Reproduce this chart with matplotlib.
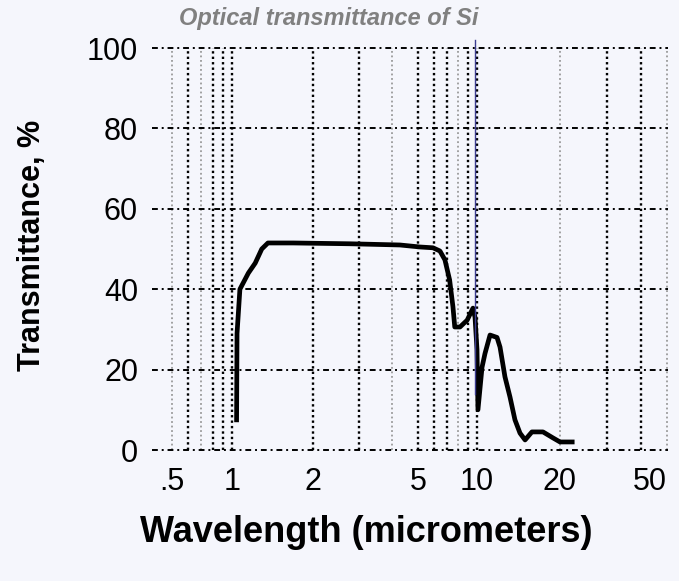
import numpy as np
import matplotlib
matplotlib.use("Agg")
import matplotlib.pyplot as plt

# transmittance curve
wavelength_um = [1.04, 1.044, 1.07, 1.15, 1.22, 1.29, 1.36, 1.69, 2.76, 4.27,
                 5.12, 5.96, 6.47, 6.86, 7.25, 7.54, 7.70, 8.19, 8.91, 9.54,
                 9.77, 10.0, 10.08, 10.43, 10.69, 11.15, 11.82, 12.12, 12.63,
                 13.17, 13.73, 14.32, 14.94, 15.82, 17.35, 18.87, 20.0, 22.2]
transmittance = [7.5, 29.0, 40.0, 44.0, 46.5, 50.0, 51.5, 51.5, 51.3, 51.0,
                 50.5, 50.3, 49.5, 47.3, 42.3, 35.6, 30.6, 30.6, 32.3, 35.3,
                 33.0, 25.0, 10.0, 20.6, 24.0, 28.6, 28.0, 25.6, 18.2,
                 13.2, 7.5, 4.2, 2.5, 4.5, 4.5, 3.0, 2.0, 2.0]

x_ticks = [0.5, 1, 2, 5, 10, 20, 50]
x_tick_labels = [".5", "1", "2", "5", "10", "20", "50"]
y_ticks = [0, 20, 40, 60, 80, 100]
grid_dark = [0.6, 0.8, 0.9, 1, 2, 3, 5, 6, 7, 9, 10, 30, 40]
grid_light = [0.5, 0.7, 4, 8, 20, 50]
marker_line_x = 9.8

# the original axis is only roughly logarithmic: piecewise log spacing
knot_vals = np.log10([0.413, 0.5, 1, 2, 5, 10, 20, 50, 50.4])
knot_pos = np.array([152, 172, 232, 313, 418, 477, 560, 667, 668], dtype=float)


def fwd(x):
    x = np.clip(np.asarray(x, dtype=float), 1e-3, None)
    return np.interp(np.log10(x), knot_vals, knot_pos)


def inv(p):
    return 10 ** np.interp(np.asarray(p, dtype=float), knot_pos, knot_vals)


bg = "#f5f6fc"
fig = plt.figure(figsize=(6.79, 5.81), dpi=100, facecolor=bg)
ax = fig.add_axes([152 / 679, 131 / 581, 516 / 679, 402 / 581], facecolor=bg)
ax.set_xscale("function", functions=(fwd, inv))
ax.set_xlim(0.413, 50.4)
ax.set_ylim(0, 100)

for s in ax.spines.values():
    s.set_visible(False)

for g in grid_dark:
    ax.axvline(g, color="black", lw=1.7, ls=(0, (1, 1.3)), zorder=1)
for g in grid_light:
    ax.axvline(g, color="#9a9a9a", lw=1.3, ls=(0, (1, 1.5)), zorder=1)
for g in y_ticks:
    ax.axhline(g, color="black", lw=1.4, ls=(0, (3, 2, 1, 2)), zorder=1,
               clip_on=False)

ax.plot(wavelength_um, transmittance, color="black", lw=3.4,
        solid_joinstyle="round", zorder=3)
ax.plot([marker_line_x, marker_line_x], [102, 14], color="#3c3c90", lw=1,
        zorder=4, clip_on=False)

ax.set_xticks(x_ticks)
ax.set_xticklabels(x_tick_labels)
ax.xaxis.set_minor_locator(matplotlib.ticker.NullLocator())
ax.set_yticks(y_ticks)
ax.tick_params(axis="both", length=0, labelsize=22, colors="black")
ax.tick_params(axis="x", pad=12)
ax.tick_params(axis="y", pad=10)
for lab in ax.get_xticklabels() + ax.get_yticklabels():
    lab.set_fontfamily("Liberation Sans")
# last label sits at the right edge of the picture
ax.get_xticklabels()[-1].set_horizontalalignment("right")

fig.text(32 / 679, 1 - 245 / 581, "Transmittance, %", rotation=90,
         ha="center", va="center", fontsize=22, fontweight="bold",
         family="Liberation Sans")
fig.text(366 / 679, 1 - 533 / 581, "Wavelength (micrometers)",
         ha="center", va="center", fontsize=26, fontweight="bold",
         family="Liberation Sans")
fig.text(329 / 679, 1 - 18 / 581, "Optical transmittance of Si",
         ha="center", va="center", fontsize=17, fontweight="bold",
         style="italic", color="#808080", family="Liberation Sans")

fig.savefig("out.png", dpi=100, facecolor=bg)
